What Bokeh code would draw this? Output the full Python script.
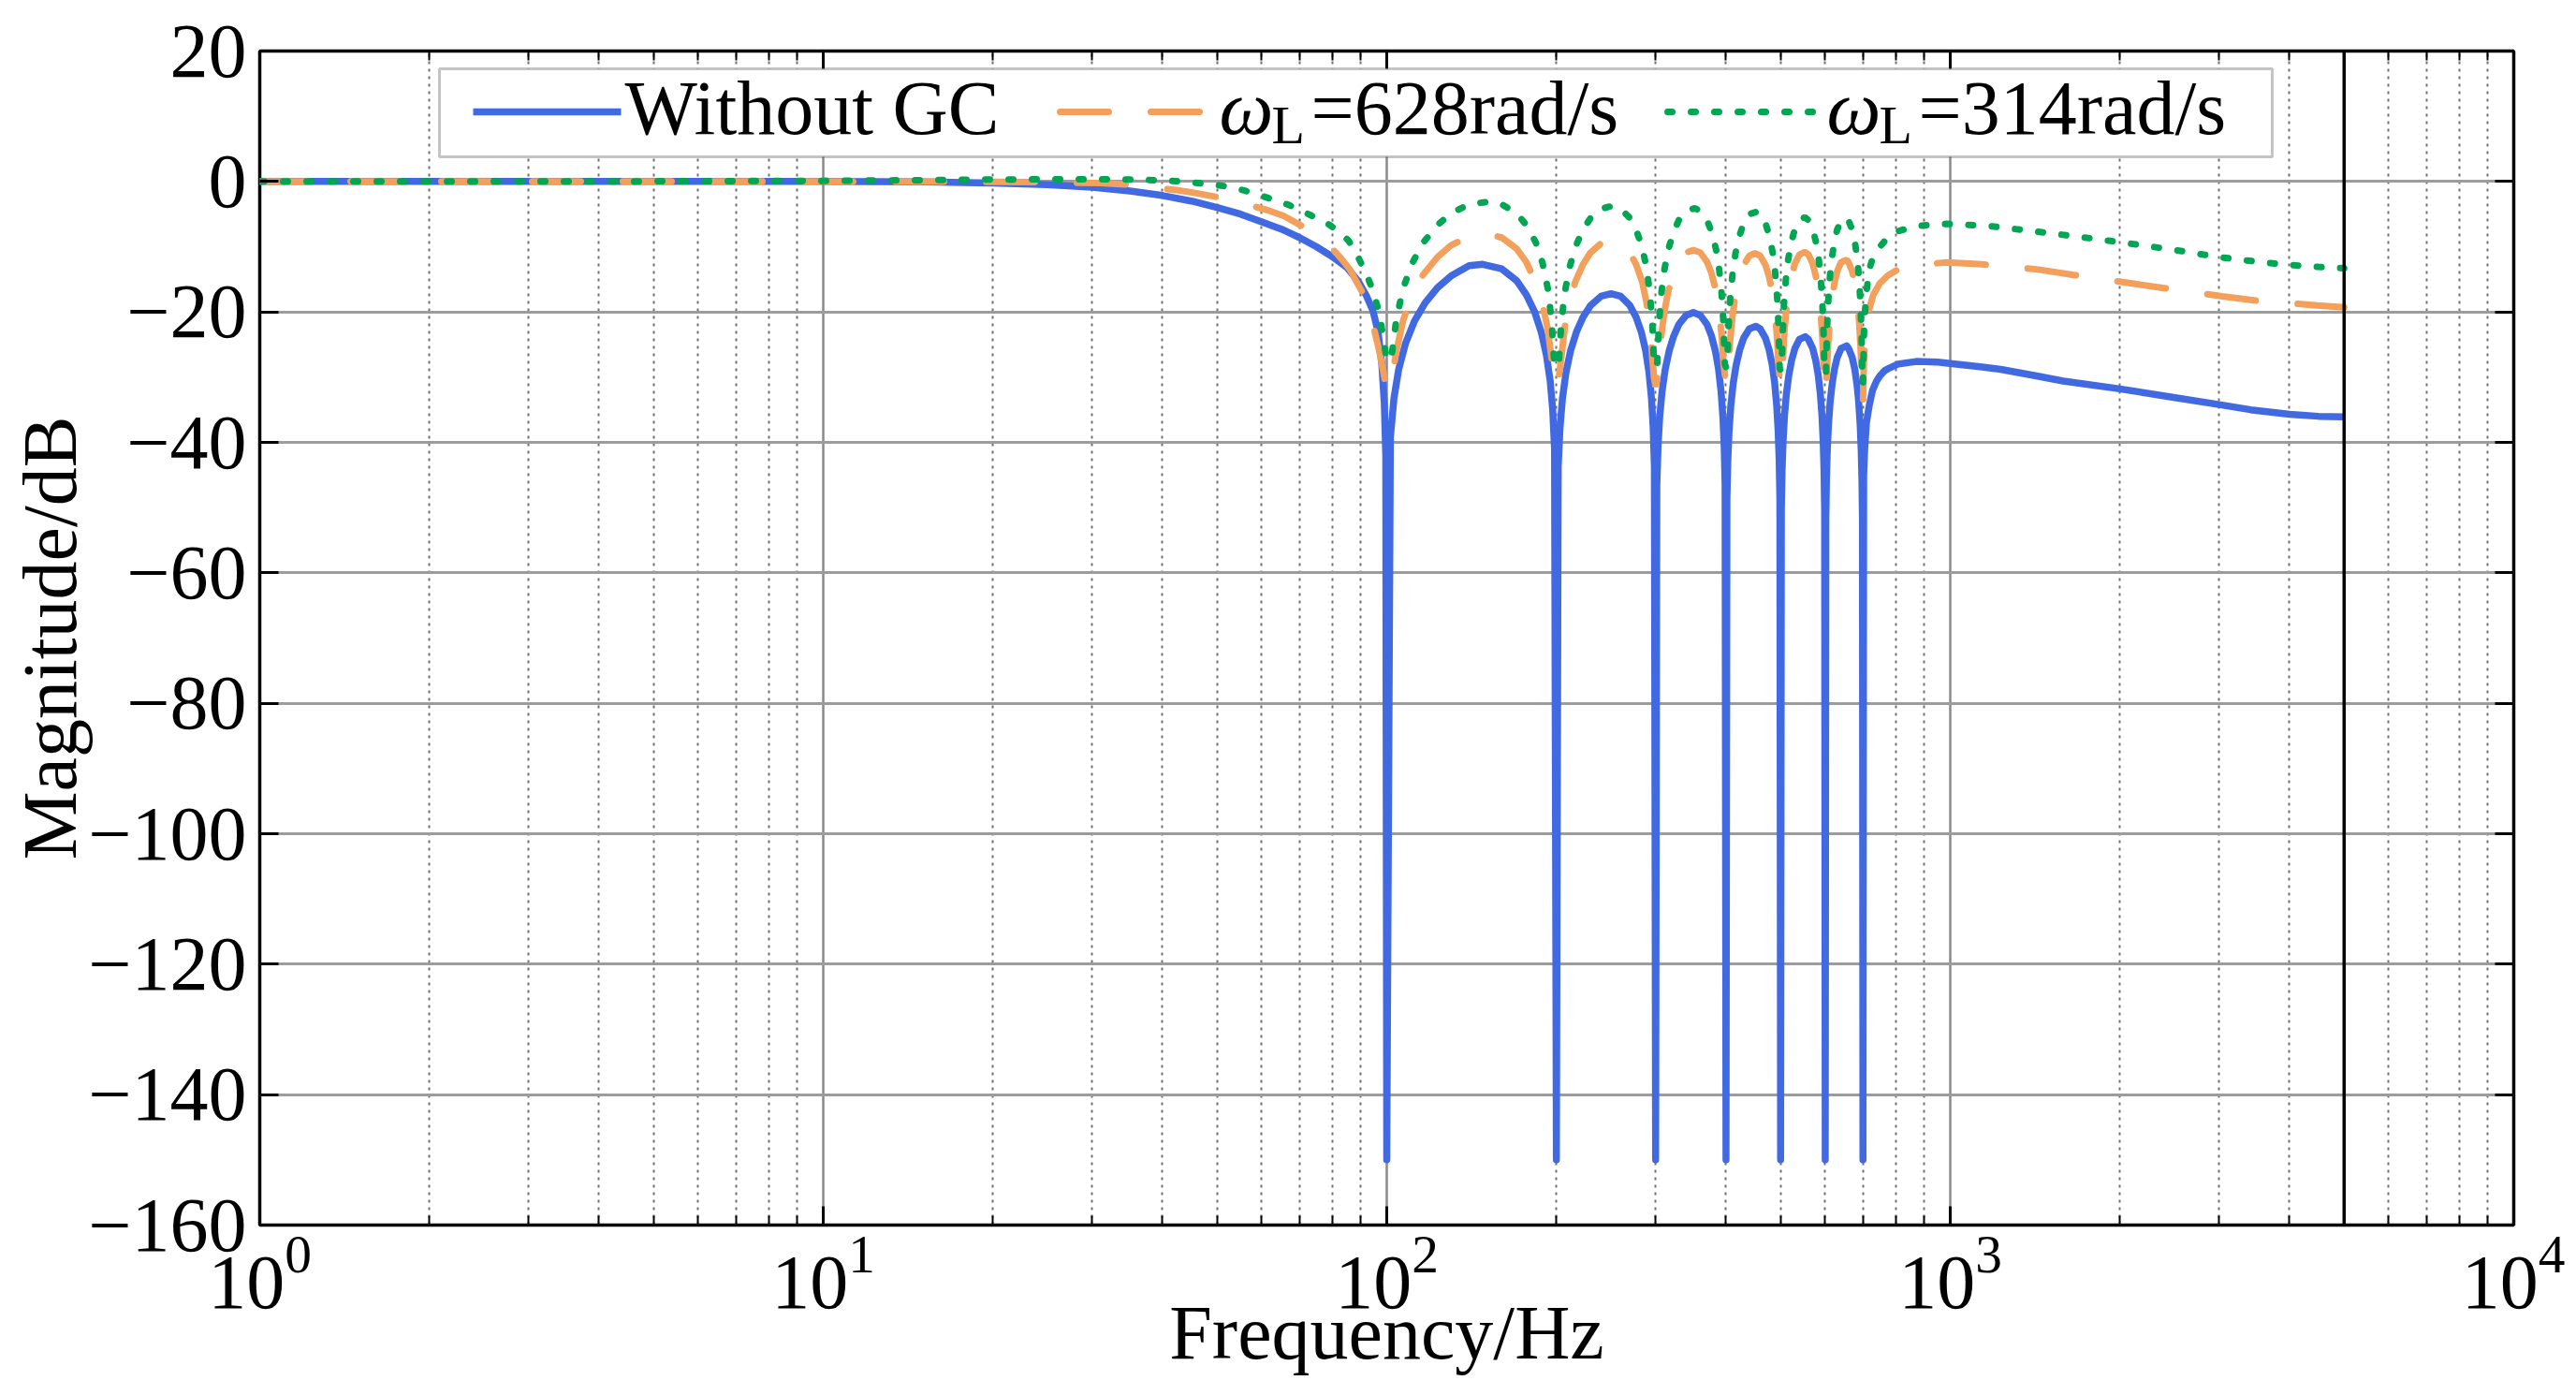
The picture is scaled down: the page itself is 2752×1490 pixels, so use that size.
import math
from bokeh.plotting import figure
from bokeh.models import (Range1d, FixedTicker, LinearAxis, LogAxis, CustomJSTickFormatter,
                          Span, BoxAnnotation, Label, Arrow)
from bokeh.embed import file_html
from bokeh.resources import INLINE

# ---------------- data ----------------
series_names = ["Without GC", "\u03c9L=628rad/s", "\u03c9L=314rad/s"]

blue_f = [
    1, 5, 10, 15, 20, 25, 30, 35, 40, 45, 50, 55, 60, 65, 70, 75, 80, 85, 89, 92, 94.5, 96.5, 98, 99, 99.6, 100,
    101.5, 103, 105, 108, 112, 117, 123, 130, 140, 148, 160, 170, 177, 183, 188, 192, 195, 197, 198.5, 200,
    201.5, 203, 205, 208, 212, 217, 223, 230, 240, 250, 260, 270, 277, 283, 288, 292, 295, 297, 298.5, 300,
    301.5, 303, 305, 308, 312, 317, 323, 330, 340, 350, 360, 370, 377, 383, 388, 392, 395, 397, 398.5, 400,
    401.5, 403, 405, 408, 412, 417, 423, 430, 440, 452, 460, 470, 477, 483, 488, 492, 495, 497, 498.5, 500,
    501.5, 503, 505, 508, 512, 517, 523, 530, 540, 553, 560, 570, 577, 583, 588, 592, 595, 597, 598.5, 600,
    601.5, 603, 605, 608, 612, 617, 623, 630, 640, 655, 660, 670, 677, 683, 688, 692, 695, 697, 698.5, 700,
    702, 705, 710, 718, 728, 740, 750, 765, 780, 808, 870, 950, 1000, 1130, 1229, 1400, 1587,
    2000, 2447, 3000, 3412, 4000, 4500, 5000]
blue_db = [
    0, 0, 0, -0.05, -0.25, -0.5, -0.9, -1.45, -2.15, -3.0, -4.0, -5.0, -6.2, -7.3, -8.6, -10.0, -11.5, -13.2, -15.3, -17.5, -19.8, -23.0, -28.0, -34.0, -42.0, -150,
    -39.2, -33.2, -28.8, -24.8, -21.4, -18.6, -16.3, -14.5, -12.9, -12.7, -13.4, -15.2, -17.4, -20.0, -23.1, -26.6, -30.6, -35.0, -41.0, -150,
    -43.7, -37.7, -33.3, -29.3, -25.9, -23.1, -20.8, -19.0, -17.6, -17.2, -17.6, -19.0, -20.8, -23.1, -25.9, -29.3, -33.3, -37.7, -43.7, -150,
    -46.6, -40.6, -36.2, -32.2, -28.8, -26.0, -23.7, -21.9, -20.5, -20.1, -20.5, -21.9, -23.7, -26.0, -28.8, -32.2, -36.2, -40.6, -46.6, -150,
    -48.7, -42.7, -38.3, -34.3, -30.9, -28.1, -25.8, -24.0, -22.6, -22.2, -22.6, -24.0, -25.8, -28.1, -30.9, -34.3, -38.3, -42.7, -48.7, -150,
    -50.3, -44.3, -39.9, -35.9, -32.5, -29.7, -27.4, -25.6, -24.2, -23.8, -24.2, -25.6, -27.4, -29.7, -32.5, -35.9, -39.9, -44.3, -50.3, -150,
    -51.7, -45.7, -41.3, -37.3, -33.9, -31.1, -28.8, -27.0, -25.6, -25.2, -25.6, -27.0, -28.8, -31.1, -33.9, -37.3, -41.3, -45.7, -51.7, -150,
    -45.0, -41.0, -37.0, -34.4, -32.0, -30.6, -29.8, -29.0, -28.6, -28.0, -27.6, -27.7, -27.9, -28.4, -28.8, -29.7, -30.6,
    -31.8, -33.0, -34.2, -35.0, -35.7, -36.0, -36.1]

orange_f = [
    1, 10, 20, 25, 31, 35, 39, 43, 46, 51.5, 57, 62, 65.7, 72, 76, 80, 83, 86, 90.5, 94, 97, 100,
    102, 104, 107, 111, 116, 123, 130, 140, 150, 160, 170, 177, 184, 189, 193, 196, 198, 200,
    202, 204, 207, 211, 216, 223, 230, 240, 250, 260, 270, 277, 284, 289, 293, 296, 298, 300,
    302, 304, 307, 311, 316, 323, 330, 340, 350, 360, 370, 377, 384, 389, 393, 396, 398, 400,
    402, 404, 407, 411, 416, 423, 430, 440, 450, 460, 470, 477, 484, 489, 493, 496, 498, 500,
    502, 504, 507, 511, 516, 523, 530, 540, 552, 560, 570, 577, 584, 589, 593, 596, 598, 600,
    602, 604, 607, 611, 616, 623, 630, 640, 655, 660, 670, 677, 684, 689, 693, 696, 698, 700,
    703, 707, 712, 718, 730, 750, 775, 810, 851, 985, 1139, 1433, 1648, 2088, 2414, 3040, 3520, 4480, 5000]
orange_db = [
    0, 0, -0.05, -0.12, -0.25, -0.5, -0.95, -1.4, -1.8, -2.6, -3.6, -4.5, -5.3, -7.2, -8.6, -10.3, -11.8, -13.5, -17.0, -21.0, -26.0, -32.0,
    -30.5, -26.0, -21.2, -17.4, -14.3, -11.6, -9.8, -8.4, -8.0, -8.6, -10.3, -12.4, -15.6, -18.9, -22.5, -27.0, -30.0, -31.5,
    -30.0, -27.1, -22.3, -18.5, -15.4, -12.7, -10.9, -9.5, -9.1, -9.5, -10.9, -12.7, -15.4, -18.5, -22.3, -27.1, -30.0, -31.5,
    -30.0, -28.0, -23.7, -19.9, -16.8, -14.1, -12.3, -10.9, -10.5, -10.9, -12.3, -14.1, -16.8, -19.9, -23.7, -28.0, -29.5, -31.0,
    -29.5, -28.0, -24.2, -20.4, -17.3, -14.6, -12.8, -11.4, -11.0, -11.4, -12.8, -14.6, -17.3, -20.4, -24.2, -28.5, -30.0, -31.5,
    -30.0, -28.5, -24.0, -20.2, -17.1, -14.4, -12.6, -11.2, -10.8, -11.2, -12.6, -14.4, -17.1, -20.2, -24.0, -28.5, -31.0, -32.5,
    -31.0, -29.0, -25.2, -21.4, -18.3, -15.6, -13.8, -12.4, -12.0, -12.4, -13.8, -15.6, -18.3, -21.4, -25.2, -29.5, -32.5, -34.0,
    -27.0, -23.0, -20.8, -19.6, -17.4, -15.6, -14.4, -13.4, -12.9, -12.4, -12.7, -13.5, -14.3, -15.6, -16.4, -17.6, -18.3, -19.0, -19.3]

green_f = [
    1, 5, 10, 15, 20, 30, 36, 40, 43.3, 47, 51.5, 56, 60, 64, 67, 73, 79, 82.5, 85.6, 88, 90.5, 92.5, 94.5, 96.5, 98, 99, 100,
    102, 104, 107, 111, 116, 123, 130, 140, 152, 160, 170, 177, 184, 189, 193, 196, 198, 200,
    202, 204, 207, 211, 216, 223, 230, 240, 250, 260, 270, 277, 284, 289, 293, 296, 298, 300,
    302, 304, 307, 311, 316, 323, 330, 340, 352, 360, 370, 377, 384, 389, 393, 396, 398, 400,
    402, 404, 407, 411, 416, 423, 430, 440, 455, 460, 470, 477, 484, 489, 493, 496, 498, 500,
    502, 504, 507, 511, 516, 523, 530, 540, 552, 560, 570, 577, 584, 589, 593, 596, 598, 600,
    602, 604, 607, 611, 616, 623, 630, 640, 655, 660, 670, 677, 684, 689, 693, 696, 698, 700,
    703, 708, 718, 730, 750, 780, 808, 876, 985, 1168, 1397, 1700, 2000, 2500, 3000, 3500, 4000, 4500, 5000]
green_db = [
    0, 0.03, 0.1, 0.2, 0.3, 0.35, 0.3, 0.15, 0, -0.3, -0.7, -1.4, -2.2, -3.0, -3.6, -5.1, -6.6, -7.8, -9.1, -10.8, -12.9, -14.7, -16.7, -19.5, -22.5, -25.0, -27.5,
    -26.8, -21.1, -16.3, -12.5, -9.4, -6.7, -4.9, -3.5, -3.1, -3.5, -4.9, -6.7, -9.4, -12.5, -16.3, -21.1, -27.1, -28.5,
    -27.8, -21.8, -17.0, -13.2, -10.1, -7.4, -5.6, -4.2, -3.8, -4.2, -5.6, -7.4, -10.1, -13.2, -17.0, -21.8, -27.8, -28.5,
    -28.0, -22.1, -17.3, -13.5, -10.4, -7.7, -5.9, -4.5, -4.1, -4.5, -5.9, -7.7, -10.4, -13.5, -17.3, -22.1, -28.0, -28.5,
    -28.2, -22.6, -17.8, -14.0, -10.9, -8.2, -6.4, -5.0, -4.6, -5.0, -6.4, -8.2, -10.9, -14.0, -17.8, -22.6, -28.6, -29.0,
    -28.7, -23.5, -18.7, -14.9, -11.8, -9.1, -7.3, -5.9, -5.5, -5.9, -7.3, -9.1, -11.8, -14.9, -18.7, -23.5, -29.2, -29.5,
    -29.2, -23.6, -18.8, -15.0, -11.9, -9.2, -7.4, -6.0, -5.6, -6.0, -7.4, -9.2, -11.9, -15.0, -18.8, -23.6, -29.6, -31.0,
    -23.0, -18.0, -13.5, -11.5, -10.0, -8.3, -7.6, -6.8, -6.5, -6.8, -7.6, -8.5, -9.3, -10.5, -11.6, -12.3, -12.8, -13.1, -13.3]

x_major_ticks = [1, 10, 100, 1000, 10000]
x_minor_ticks = [2, 3, 4, 5, 6, 7, 8, 9,
                 20, 30, 40, 50, 60, 70, 80, 90,
                 200, 300, 400, 500, 600, 700, 800, 900,
                 2000, 3000, 4000, 5000, 6000, 7000, 8000, 9000]
y_ticks = [-160, -140, -120, -100, -80, -60, -40, -20, 0, 20]
nyquist_marker = 5000

# ---------------- styling ----------------
FONT = "Liberation Serif"
FS = "82px"
BLUE = "#4169E1"
ORANGE = "#F2A05C"
GREEN = "#00A651"

W, H = 2740, 1490
ML, MT = 277, 54
FW_, FH_ = 2408, 1254
MR = W - ML - FW_
MB = H - MT - FH_

p = figure(width=W, height=H, x_axis_type="log",
           x_range=Range1d(1, 10000), y_range=Range1d(-160, 20),
           output_backend="svg", toolbar_location=None,
           min_border_left=ML, min_border_right=MR, min_border_top=MT, min_border_bottom=MB)
p.background_fill_color = "white"
p.border_fill_color = "white"
p.outline_line_color = "black"
p.outline_line_width = 3.5

xticker = FixedTicker(ticks=x_major_ticks, minor_ticks=x_minor_ticks)
yticker = FixedTicker(ticks=y_ticks)

p.xaxis.ticker = xticker
p.yaxis.ticker = yticker
p.yaxis.formatter = CustomJSTickFormatter(
    code="return (tick < 0 ? '\\u2212' : '') + Math.abs(tick).toFixed(0);")

top_ax = LogAxis(ticker=xticker, formatter=CustomJSTickFormatter(code="return '';"))
right_ax = LinearAxis(ticker=yticker, formatter=CustomJSTickFormatter(code="return '';"))
p.add_layout(top_ax, "above")
p.add_layout(right_ax, "right")


def style_axis(ax, minor=True, labels=True):
    ax.axis_line_color = None
    ax.major_tick_in = 20
    ax.major_tick_out = 0
    ax.major_tick_line_color = "black"
    ax.major_tick_line_width = 3
    if minor:
        ax.minor_tick_in = 10
        ax.minor_tick_out = 0
        ax.minor_tick_line_color = "black"
        ax.minor_tick_line_width = 2
    else:
        ax.minor_tick_line_color = None
    ax.major_label_text_font = FONT
    ax.major_label_text_color = "black"
    if labels:
        ax.major_label_text_font_size = FS
    else:
        ax.major_label_text_font_size = "1px"
        ax.major_label_standoff = 0


def style_title(ax, text, standoff):
    ax.axis_label = text
    ax.axis_label_text_font = FONT
    ax.axis_label_text_font_size = FS
    ax.axis_label_text_font_style = "normal"
    ax.axis_label_text_color = "black"
    ax.axis_label_standoff = standoff


for ax in p.below:
    style_axis(ax, minor=True)
    ax.major_label_standoff = 12
    style_title(ax, "Frequency/Hz", -22)
for ax in p.left:
    style_axis(ax, minor=False)
    ax.major_label_standoff = 14
    style_title(ax, "Magnitude/dB", -8)
style_axis(top_ax, minor=True, labels=False)
style_axis(right_ax, minor=False, labels=False)

p.xgrid.grid_line_color = "#8a8a8a"
p.xgrid.grid_line_width = 2.5
p.xgrid.minor_grid_line_color = "#707070"
p.xgrid.minor_grid_line_width = 2
p.xgrid.minor_grid_line_dash = "3 5"
p.ygrid.grid_line_color = "#9c9c9c"
p.ygrid.grid_line_width = 3

# ---------------- curves ----------------
LW = 7.5
p.line(blue_f, blue_db, line_color=BLUE, line_width=LW, line_join="round")
p.line(orange_f, orange_db, line_color=ORANGE, line_width=7, line_dash="52 45", line_cap="round")
p.line(green_f, green_db, line_color=GREEN, line_width=7, line_dash="5 20", line_cap="round")

p.add_layout(Span(location=nyquist_marker, dimension="height", line_color="black", line_width=3.5))

# ---------------- legend (manual, screen units relative to frame) ----------------
p.add_layout(BoxAnnotation(left=192, right=2150, bottom=1141, top=1235,
                           left_units="screen", right_units="screen",
                           bottom_units="screen", top_units="screen",
                           fill_color="white", fill_alpha=1.0,
                           line_color="#3a3a3a", line_width=3))

swatches = [(228, 386, BLUE, "solid", "butt", LW),
            (855, 1022, ORANGE, "52 45", "round", 7),
            (1504, 1671, GREEN, "5 20", "round", 7)]
for x0, x1, col, dash, cap, lw in swatches:
    p.add_layout(Arrow(x_start=x0, y_start=1189, x_end=x1, y_end=1189,
                       start_units="screen", end_units="screen", start=None, end=None,
                       line_color=col, line_width=lw, line_dash=dash, line_cap=cap))


# Label text is placed by the middle of its em box: shift = 0.3375 * font size above baseline
def add_label(x, y_base, text, size=82, style="normal", align="left"):
    p.add_layout(Label(x=x, y=y_base + 0.3375 * size, x_units="screen", y_units="screen", text=text,
                       text_font=FONT, text_font_size=f"{size}px", text_font_style=style,
                       text_color="black", text_align=align, text_baseline="middle"))


add_label(390, 1165, "Without GC")
add_label(1025, 1165, "\u03c9", style="italic")
add_label(1081, 1155, "L", size=58)
add_label(1123, 1165, "=628rad/s")
add_label(1674, 1165, "\u03c9", style="italic")
add_label(1730, 1155, "L", size=58)
add_label(1772, 1165, "=314rad/s")

open("out.html", "w").write(file_html(p, INLINE))
